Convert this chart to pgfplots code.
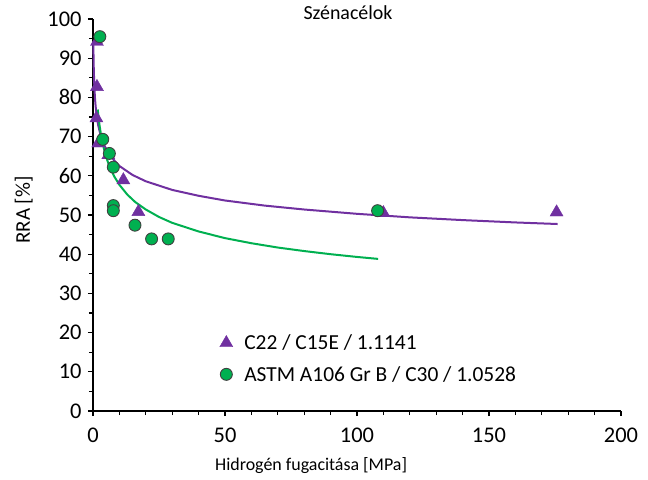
\documentclass[border=0pt]{standalone}
\usepackage{fontspec}
\setmainfont{Carlito}
\usepackage{pgfplots}
\pgfplotsset{compat=1.18}
\definecolor{lila}{RGB}{112,48,160}
\definecolor{zold}{RGB}{0,176,80}
\definecolor{korvonal}{RGB}{64,64,64}
\pgfplotsset{
  jelmagyarazat/.style={legend image code/.code={\path[draw=none,fill=none] (-8bp,0) -- (16bp,0);
    \draw[##1] plot coordinates {(0bp,0bp)};}},
}
\begin{document}
\begin{tikzpicture}
\useasboundingbox (0,0) rectangle (648bp,480bp);
\begin{axis}[
  at={(93bp,69bp)}, anchor=south west,
  scale only axis, width=528bp, height=392bp,
  xmin=0, xmax=200, ymin=0, ymax=100,
  xtick={0,50,...,200}, ytick={0,10,...,100},
  minor x tick num=4, minor y tick num=1,
  axis lines=left, axis line style={-, black, line width=1.3bp},
  tick align=outside, tick style={black, line width=1.1bp},
  major tick length=5bp, minor tick length=4bp,
  /pgf/number format/assume math mode=true,
  tick label style={font=\fontsize{22.5}{26}\selectfont},
  xticklabel style={yshift=-8bp},
  yticklabel style={xshift=-3bp},
  clip=false,
  title={Szénacélok},
  title style={at={(axis description cs:0.483,1.002)}, anchor=center, font=\fontsize{20}{23}\selectfont},
  xlabel={Hidrogén fugacitása [MPa]},
  xlabel style={at={(axis description cs:0.413,-0.138)}, anchor=center, font=\fontsize{18}{21}\selectfont},
  ylabel={RRA [\%]},
  ylabel style={at={(axis description cs:-0.131,0.513)}, anchor=center, font=\fontsize{21}{24}\selectfont},
  legend style={draw=none, fill=none, at={(0.237,0.20)}, anchor=north west,
    font=\fontsize{21.5}{24}\selectfont, row sep=11bp, inner sep=0pt},
  legend cell align=left,
]
% trendvonalak
\addplot[lila, line width=2bp, forget plot] coordinates {
  (0.13,94.2) (0.2,90.4) (0.3,87.1) (0.5,83.0) (0.75,79.8) (1,77.7) (1.5,74.8)
  (2,72.8) (3,70.0) (4,68.2) (5,66.8) (7,64.7) (10,62.5) (15,60.2) (20,58.6)
  (30,56.4) (40,54.9) (50,53.7) (65,52.4) (80,51.4) (100,50.3) (120,49.4)
  (140,48.7) (160,48.1) (176,47.7)
};
\addplot[zold, line width=2bp, forget plot] coordinates {
  (1.8,76.9) (2,75.5) (2.5,72.8) (3,70.6) (4,67.3) (5,64.8) (6,62.8) (8,59.9)
  (10,57.7) (13,55.2) (16,53.3) (20,51.4) (25,49.5) (30,48.0) (40,45.8)
  (50,44.1) (60,42.8) (70,41.7) (80,40.8) (90,40.0) (100,39.3) (108,38.8)
};
% mérési pontok
\addplot[only marks, mark=triangle*, mark size=7.5bp, lila,
  mark options={fill=lila, draw=lila}, jelmagyarazat] coordinates {
  (1.5,94.2) (1.5,82.7) (1.3,74.7) (2,68.3) (5.8,65.3) (11.5,58.9)
  (17.2,50.8) (110,50.5) (175.6,50.7)
};
\addlegendentry{C22 / C15E / 1.1141}
\addplot[only marks, mark=*, mark size=6bp,
  mark options={fill=zold, draw=korvonal, line width=0.9bp}, jelmagyarazat] coordinates {
  (2.6,95.5) (3.7,69.3) (6.2,65.7) (7.7,62.2) (7.7,52.4) (7.7,51.1)
  (15.9,47.4) (22.2,43.9) (28.5,43.9) (107.8,51.1)
};
\addlegendentry{ASTM A106 Gr B / C30 / 1.0528}
\end{axis}
\end{tikzpicture}
\end{document}
